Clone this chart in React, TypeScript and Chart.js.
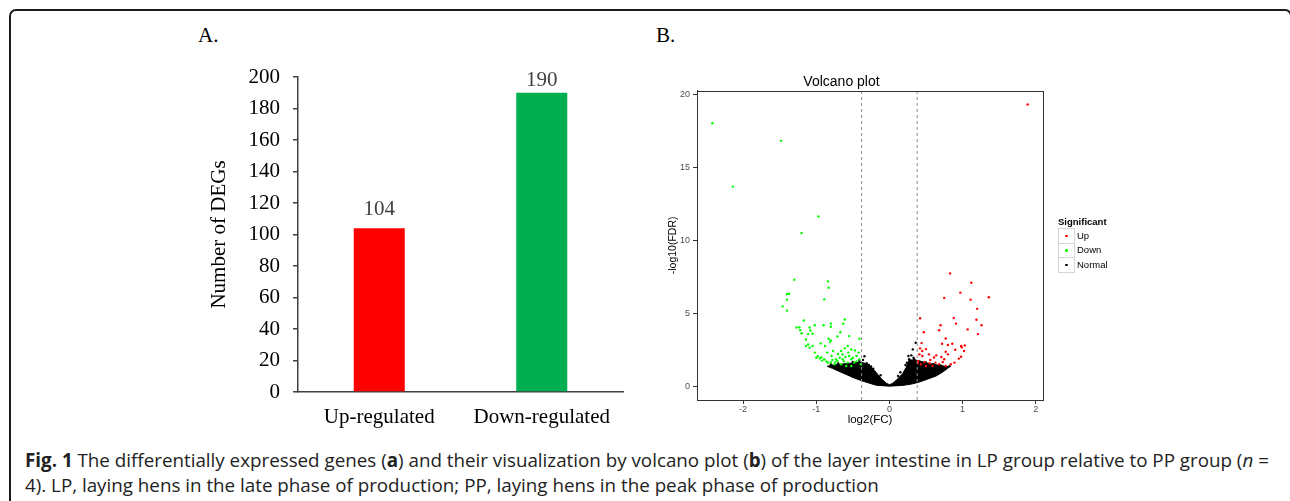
import React, { useEffect, useRef } from 'react';
import { Chart, registerables } from 'chart.js';

Chart.register(...registerables);

const SERIF = "'Liberation Serif', 'Times New Roman', serif";
const SANS = "'Liberation Sans', Arial, sans-serif";
const AXIS_A = '#404040';

// ---------- Panel A data ----------
const barCategories = ['Up-regulated', 'Down-regulated'];
const barValues = [104, 190];
const barColors = ['#FF0000', '#00B050'];
const barYMax = 200;
const barYStep = 20;
const barYTitle = 'Number of DEGs';

// ---------- Panel B data ----------
const volcanoTitle = 'Volcano plot';
const volcanoXTitle = 'log2(FC)';
const volcanoYTitle = '-log10(FDR)';
const volcanoXTicks = [-2, -1, 0, 1, 2];
const volcanoYTicks = [0, 5, 10, 15, 20];
const volcanoXRange = [-2.63, 2.1];
const volcanoYRange = [-0.95, 20.25];
const fcThresholds = [-0.38, 0.38];

const upPoints: number[][] = [
  [1.89, 19.31], [0.83, 7.73], [1.12, 7.09], [0.97, 6.41], [0.75, 6.05], [1.36, 6.09], [1.11, 5.93],
  [1.2, 5.3], [0.42, 4.66], [0.88, 4.68], [1.19, 4.55], [0.91, 4.29], [1.26, 4.18], [0.7, 4.18],
  [0.68, 3.84], [1.07, 3.89], [0.47, 3.7], [1.21, 3.57], [0.77, 3.27], [0.44, 2.95], [0.72, 2.91],
  [0.86, 2.91], [0.8, 2.82], [1.03, 2.79], [0.99, 2.66], [0.42, 2.59], [0.5, 2.54], [0.9, 2.5],
  [1.02, 2.41], [0.45, 2.41], [0.77, 2.36], [0.8, 2.18], [0.64, 2.11], [0.54, 2.18], [0.41, 2.18],
  [0.45, 2.07], [0.98, 2.02], [0.95, 1.89], [0.75, 1.84], [0.56, 1.79], [0.39, 1.72], [0.48, 1.66],
  [0.63, 1.61], [0.73, 1.66], [0.84, 1.5], [0.89, 1.61], [0.68, 1.5], [0.55, 1.57], [0.43, 1.5],
  [0.77, 1.38], [0.59, 1.38], [0.5, 1.38], [0.39, 1.6], [0.71, 2.0], [0.61, 1.96], [0.98, 2.75],
];

const downPoints: number[][] = [
  [-2.42, 18.02], [-1.48, 16.82], [-2.14, 13.68], [-0.97, 11.63], [-1.2, 10.5], [-1.3, 7.29],
  [-0.84, 7.18], [-0.83, 6.75], [-1.37, 6.33], [-1.4, 6.3], [-1.4, 5.93], [-0.89, 5.95], [-1.46, 5.47],
  [-1.4, 5.18], [-1.17, 4.5], [-0.8, 4.29], [-0.61, 4.57], [-0.8, 4.07], [-0.63, 4.29], [-1.02, 4.18],
  [-0.9, 4.18], [-1.27, 4.02], [-1.23, 4.04], [-1.09, 4.02], [-1.22, 3.84], [-1.08, 3.82], [-0.67, 3.7],
  [-1.2, 3.63], [-1.11, 3.57], [-1.05, 3.59], [-0.55, 3.43], [-0.71, 3.41], [-0.41, 3.25], [-0.83, 3.25],
  [-0.8, 3.14], [-1.14, 3.2], [-0.81, 3.02], [-1.11, 2.86], [-0.94, 2.93], [-1.05, 2.75], [-1.09, 2.64],
  [-0.88, 2.75], [-0.57, 2.75], [-0.61, 2.59], [-0.52, 2.52], [-0.66, 2.41], [-0.85, 2.3], [-1.02, 2.3],
  [-0.93, 1.96], [-0.89, 1.84], [-0.79, 2.07], [-0.73, 1.84], [-0.64, 1.84], [-0.55, 2.07], [-0.45, 2.07],
  [-0.41, 1.84], [-0.48, 1.61], [-0.57, 1.61], [-0.66, 1.5], [-0.75, 1.5], [-0.84, 1.61], [-0.59, 1.38],
  [-0.52, 1.38], [-0.39, 1.5], [-0.71, 1.72], [-0.52, 1.84], [-0.64, 2.18], [-0.77, 2.41], [-0.95, 1.91],
  [-0.45, 1.7], [-0.5, 1.95], [-0.6, 2.0], [-0.68, 1.95], [-0.78, 1.8], [-0.86, 1.7], [-0.92, 1.75],
  [-0.98, 2.05], [-1.0, 1.95], [-0.62, 1.7], [-0.42, 2.3], [-0.47, 2.45], [-0.56, 2.3], [-0.7, 2.2],
  [-0.74, 1.65], [-0.8, 1.62], [-1.14, 2.75],
];

const normalPoints: number[][] = [
  [0.36, 2.98], [0.32, 2.52], [0.3, 2.11], [0.34, 1.84], [0.27, 1.84], [0.26, 2.07], [0.22, 1.45],
  [0.15, 0.95], [-0.31, 1.57], [-0.32, 1.27], [-0.36, 1.8], [-0.28, 1.45], [-0.22, 1.2], [-0.12, 0.75],
  [0.12, 0.7], [0.33, 1.95], [-0.34, 2.05], [0.6, 1.5], [0.5, 1.62], [-0.5, 1.66], [-0.7, 1.55],
  [-0.8, 1.48], [0.7, 1.42], [0.82, 1.36], [-0.41, 1.72], [0.24, 1.6], [-0.25, 1.35],
];

// outline of the dense cloud of non-significant genes
const normalCloud: number[][] = [
  [0, 0], [-0.18, 0.06], [-0.36, 0.34], [-0.48, 0.55], [-0.59, 0.8], [-0.7, 1.04], [-0.78, 1.22],
  [-0.85, 1.36], [-0.78, 1.45], [-0.68, 1.5], [-0.58, 1.55], [-0.48, 1.6], [-0.39, 1.65], [-0.3, 1.52],
  [-0.2, 1.06], [-0.11, 0.5], [-0.04, 0.2], [0, 0.1], [0.04, 0.18], [0.09, 0.38], [0.18, 0.85],
  [0.23, 1.3], [0.27, 1.8], [0.33, 1.8], [0.4, 1.75], [0.5, 1.6], [0.62, 1.48], [0.72, 1.4],
  [0.82, 1.32], [0.74, 1.0], [0.64, 0.7], [0.52, 0.48], [0.41, 0.28], [0.3, 0.14], [0.18, 0.05], [0, 0],
];

const legendTitle = 'Significant';
const legendLabels = ['Up', 'Down', 'Normal'];
const legendColors = ['#FF0000', '#00FF00', '#000000'];

const toXY = (arr: number[][]) => arr.map(([x, y]) => ({ x, y }));

function BarPanel() {
  const ref = useRef<HTMLCanvasElement>(null);
  useEffect(() => {
    const valueLabels = {
      id: 'valueLabels',
      afterDatasetsDraw(chart: any) {
        const ctx = chart.ctx;
        const meta = chart.getDatasetMeta(0);
        ctx.save();
        ctx.font = `21px ${SERIF}`;
        ctx.fillStyle = '#404040';
        ctx.textAlign = 'center';
        ctx.textBaseline = 'alphabetic';
        meta.data.forEach((bar: any, i: number) => {
          const y = Math.max(bar.y - 13, chart.chartArea.top + 9);
          ctx.fillText(String(barValues[i]), bar.x, y);
        });
        ctx.restore();
      },
    };
    const chart = new Chart(ref.current as HTMLCanvasElement, {
      type: 'bar',
      data: {
        labels: barCategories,
        datasets: [
          {
            data: barValues,
            backgroundColor: barColors,
            borderWidth: 0,
            barPercentage: 0.314,
            categoryPercentage: 1,
          },
        ],
      },
      options: {
        responsive: false,
        animation: false,
        layout: { padding: { top: 27, right: 17, left: 0, bottom: 0 } },
        plugins: { legend: { display: false }, tooltip: { enabled: false } },
        scales: {
          x: {
            afterFit: (s: any) => {
              s.height = 48;
            },
            grid: { display: false, drawTicks: false },
            border: { display: true, color: AXIS_A, width: 1.5 },
            ticks: { font: { family: SERIF, size: 21 }, color: '#000', padding: 13 },
          },
          y: {
            min: 0,
            max: barYMax,
            afterFit: (s: any) => {
              s.width = 108;
            },
            ticks: { stepSize: barYStep, font: { family: SERIF, size: 21 }, color: '#000', padding: 13 },
            grid: { drawOnChartArea: false, drawTicks: true, tickLength: 5, color: AXIS_A, lineWidth: 1.5 },
            border: { display: true, color: AXIS_A, width: 1.5 },
            title: {
              display: true,
              text: barYTitle,
              font: { family: SERIF, size: 21 },
              color: '#000',
              padding: { top: 17, bottom: 0 },
            },
          },
        },
      } as any,
      plugins: [valueLabels],
    });
    return () => chart.destroy();
  }, []);
  return (
    <canvas
      ref={ref}
      width={450}
      height={390}
      style={{ position: 'absolute', left: 190, top: 50, width: 450, height: 390 }}
    />
  );
}

function VolcanoPanel() {
  const ref = useRef<HTMLCanvasElement>(null);
  useEffect(() => {
    const frame = {
      id: 'frame',
      afterDraw(chart: any) {
        const { ctx, chartArea } = chart;
        ctx.save();
        ctx.strokeStyle = '#333';
        ctx.lineWidth = 1;
        ctx.strokeRect(
          Math.round(chartArea.left) + 0.5,
          Math.round(chartArea.top) + 0.5,
          Math.round(chartArea.right - chartArea.left),
          Math.round(chartArea.bottom - chartArea.top)
        );
        ctx.restore();
      },
    };
    const pointDs = (data: number[][], color: string) => ({
      data: toXY(data),
      backgroundColor: color,
      borderColor: color,
      pointRadius: 1.2,
      pointBorderWidth: 0,
      showLine: false,
    });
    const chart = new Chart(ref.current as HTMLCanvasElement, {
      type: 'scatter',
      data: {
        datasets: [
          ...fcThresholds.map((t) => ({
            data: [
              { x: t, y: volcanoYRange[0] },
              { x: t, y: volcanoYRange[1] },
            ],
            showLine: true,
            borderColor: '#8a8a8a',
            borderWidth: 1,
            borderDash: [3, 3],
            pointRadius: 0,
            fill: false,
          })),
          pointDs(upPoints, legendColors[0]),
          pointDs(downPoints, legendColors[1]),
          pointDs(normalPoints, legendColors[2]),
          {
            data: toXY(normalCloud),
            showLine: true,
            borderColor: '#000',
            borderWidth: 1,
            backgroundColor: '#000',
            pointRadius: 0,
            fill: 'shape',
            tension: 0,
          },
        ],
      },
      options: {
        responsive: false,
        animation: false,
        layout: { padding: { top: 0, right: 17, left: 0, bottom: 0 } },
        plugins: {
          legend: { display: false },
          tooltip: { enabled: false },
          title: {
            display: true,
            text: volcanoTitle,
            font: { family: SANS, size: 14, weight: 'normal' },
            color: '#000',
            padding: { top: 14, bottom: 0 },
          },
        },
        scales: {
          x: {
            type: 'linear',
            min: volcanoXRange[0],
            max: volcanoXRange[1],
            afterFit: (s: any) => {
              s.height = 30;
            },
            afterBuildTicks: (s: any) => {
              s.ticks = volcanoXTicks.map((v) => ({ value: v }));
            },
            ticks: { font: { family: SANS, size: 9 }, color: '#4d4d4d', padding: 0, maxRotation: 0 },
            grid: { drawOnChartArea: false, drawTicks: true, tickLength: 4, color: '#333' },
            border: { display: true, color: '#333', width: 1 },
            title: {
              display: true,
              text: volcanoXTitle,
              font: { family: SANS, size: 11.5 },
              color: '#000',
              padding: { top: 0, bottom: 3 },
            },
          },
          y: {
            type: 'linear',
            min: volcanoYRange[0],
            max: volcanoYRange[1],
            afterFit: (s: any) => {
              s.width = 57;
            },
            afterBuildTicks: (s: any) => {
              s.ticks = volcanoYTicks.map((v) => ({ value: v }));
            },
            ticks: { font: { family: SANS, size: 9 }, color: '#4d4d4d', padding: 3 },
            grid: { drawOnChartArea: false, drawTicks: true, tickLength: 4, color: '#333' },
            border: { display: true, color: '#333', width: 1 },
            title: {
              display: true,
              text: volcanoYTitle,
              font: { family: SANS, size: 10.5 },
              color: '#000',
              padding: { top: 26.7, bottom: 0 },
            },
          },
        },
      } as any,
      plugins: [frame],
    });
    return () => chart.destroy();
  }, []);
  return (
    <canvas
      ref={ref}
      width={420}
      height={370}
      style={{ position: 'absolute', left: 640, top: 60, width: 420, height: 370 }}
    />
  );
}

function VolcanoLegend() {
  const rowTop = [228, 242.7, 257.3];
  return (
    <div style={{ fontFamily: SANS, color: '#000' }}>
      <div
        style={{
          position: 'absolute',
          left: 1058,
          top: 216,
          fontSize: 9.5,
          fontWeight: 'bold',
          lineHeight: '12px',
          whiteSpace: 'nowrap',
        }}
      >
        {legendTitle}
      </div>
      {legendLabels.map((lab, i) => (
        <React.Fragment key={lab}>
          <div
            style={{
              position: 'absolute',
              left: 1058,
              top: rowTop[i],
              width: 15,
              height: 13.6,
              border: '1px solid #d6d6d6',
              boxSizing: 'content-box',
              background: '#fff',
            }}
          >
            <div
              style={{
                position: 'absolute',
                left: 6.3,
                top: 5.6,
                width: 2.4,
                height: 2.4,
                borderRadius: '50%',
                background: legendColors[i],
              }}
            />
          </div>
          <div
            style={{
              position: 'absolute',
              left: 1077,
              top: rowTop[i] + 1.5,
              fontSize: 9.5,
              lineHeight: '12px',
              whiteSpace: 'nowrap',
            }}
          >
            {lab}
          </div>
        </React.Fragment>
      ))}
    </div>
  );
}

export default function App() {
  const captionStyle: React.CSSProperties = {
    position: 'absolute',
    left: 25,
    fontFamily: "'Open Sans', 'Noto Sans', sans-serif",
    fontSize: 18.8,
    lineHeight: '25px',
    color: '#222',
    whiteSpace: 'nowrap',
  };
  return (
    <div
      style={{
        position: 'absolute',
        left: 0,
        top: 0,
        width: 1290,
        height: 501,
        overflow: 'hidden',
        background: '#fff',
      }}
    >
      <div
        style={{
          position: 'absolute',
          left: 9,
          top: 9,
          width: 1279,
          height: 600,
          border: '2px solid #1c1c1c',
          borderTopLeftRadius: 7,
          borderTopRightRadius: 7,
        }}
      />
      <div
        style={{
          position: 'absolute',
          left: 198,
          top: 25.4,
          fontFamily: SERIF,
          fontSize: 21,
          lineHeight: '21px',
          color: '#000',
        }}
      >
        A.
      </div>
      <div
        style={{
          position: 'absolute',
          left: 656,
          top: 25.4,
          fontFamily: SERIF,
          fontSize: 21,
          lineHeight: '21px',
          color: '#000',
        }}
      >
        B.
      </div>
      <BarPanel />
      <VolcanoPanel />
      <VolcanoLegend />
      <div style={{ ...captionStyle, top: 447.5 }}>
        <b>Fig. 1</b> The differentially expressed genes (<b>a</b>) and their visualization by volcano plot (
        <b>b</b>) of the layer intestine in LP group relative to PP group (<i>n</i> =
      </div>
      <div style={{ ...captionStyle, top: 473 }}>
        4). LP, laying hens in the late phase of production; PP, laying hens in the peak phase of production
      </div>
    </div>
  );
}
